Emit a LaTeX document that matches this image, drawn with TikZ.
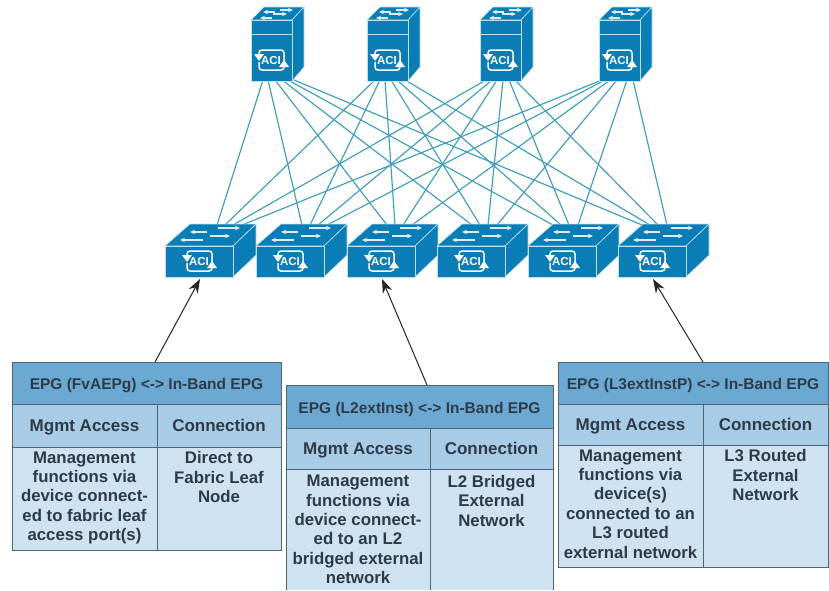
\documentclass[tikz,border=0pt]{standalone}
\usepackage{fontspec}
\setmainfont{Liberation Sans}
\usetikzlibrary{arrows.meta}
\definecolor{sw}{HTML}{0B7DB6}
\definecolor{swline}{HTML}{BFE0EF}
\definecolor{link}{HTML}{3F9DBE}
\definecolor{hd}{HTML}{6BA9D3}
\definecolor{sb}{HTML}{A8CCE6}
\definecolor{bd}{HTML}{CFE2F2}
\definecolor{ln}{HTML}{4F6675}
\definecolor{tx}{HTML}{2E3B47}
\tikzset{
  face/.style={fill=sw,draw=swline,line width=.6pt,line join=round},
  flow/.style={white!85!sw,line width=1.2pt,-{Stealth[length=5pt,width=4.5pt]}},
  wire/.style={link,line width=1.15pt},
  cell/.style={draw=ln,line width=.9pt,inner sep=0,outer sep=0},
  ttl/.style={font=\fontsize{15.5}{17}\selectfont\bfseries,text=tx,text height=13pt,text depth=0pt},
  sub/.style={font=\fontsize{17}{19}\selectfont\bfseries,text=tx,text height=12.4pt,text depth=0pt},
  txt/.style={font=\fontsize{16.8}{19.4}\selectfont\bfseries,text=tx,align=center,anchor=north},
  feed/.style={-{Stealth[length=14pt,width=10pt]},line width=1pt,black!85},
  acilogo/.pic={
    \draw[white,line width=1.5pt,rounded corners=3pt] (13,1) -- (13,-10) -- (-12,-10) -- (-12,-4);
    \draw[white,line width=1.5pt,rounded corners=3pt] (-12,2) -- (-12,10) -- (13,10) -- (13,6);
    \fill[white] (-17,-6) -- (-7,-6) -- (-12,1) -- cycle;
    \fill[white] (8,7) -- (18,7) -- (13,0) -- cycle;
    \node[font=\fontsize{11.5}{12}\selectfont\bfseries,text=white,inner sep=0] at (0,.5) {ACI};
  }
}
\begin{document}
\begin{tikzpicture}[x=1pt,y=-1pt]
\useasboundingbox (0,0) rectangle (829,590);
\fill[white] (0,0) rectangle (829,590);

% link end points on spines
\foreach \k/\a/\b/\c/\d in {1/12/8/6/3,2/17/13/12/6,3/24/18/17/11,4/31/24/23/18,5/37/30/29/28,6/43/38/35/34}{
  \coordinate (s1p\k) at (251+\a,80);
  \coordinate (s2p\k) at (367+\b,80);
  \coordinate (s3p\k) at (480+\c,80);
  \coordinate (s4p\k) at (599+\d,80);
}
% link end points on leaves
\foreach \n/\x in {1/217,2/302,3/387,4/472,5/553,6/642}{
  \foreach \k/\d in {1/0,2/8,3/16,4/25}{
    \coordinate (l\n p\k) at (\x+\d,225);
  }
}
% links
\foreach \s in {1,2,3,4}{
  \foreach \l in {1,...,6}{
    \draw[wire] (s\s p\l) -- (l\l p\s);
  }
}

% spines
\foreach \n/\x in {1/251,2/367,3/480,4/599}{
  \begin{scope}[shift={(\x,0)}]
    \path[face] (0,20) -- (13,7) -- (53,7) -- (41,20) -- cycle;
    \path[face] (41,20) -- (53,7) -- (53,67) -- (41,81) -- cycle;
    \path[face] (0,20) -- (41,20) -- (41,81) -- (0,81) -- cycle;
    \draw[swline,line width=.5pt] (0,34) -- (41,34);
    \draw[flow] (24,12) -- (12,12);
    \draw[flow] (29,10) -- (42,10);
    \draw[flow] (22,14) -- (36,14);
    \draw[flow] (21,18) -- (9,18);
    \pic at (20,60) {acilogo};
    \node[inner sep=0,minimum size=0] (spine\n) at (20,50) {};
  \end{scope}
}
% leaves
\foreach \n/\x in {1/165,2/256,3/347,4/437,5/528,6/618}{
  \begin{scope}[shift={(\x,0)}]
    \path[face] (0,246) -- (25,224) -- (91,224) -- (68,246) -- cycle;
    \path[face] (68,246) -- (91,224) -- (91,255) -- (68,277) -- cycle;
    \path[face] (0,246) -- (68,246) -- (68,277) -- (0,277) -- cycle;
    \draw[flow] (42,232) -- (25,232);
    \draw[flow] (53,228) -- (75,228);
    \draw[flow] (45,236) -- (65,236);
    \draw[flow] (38,240) -- (15,240);
    \pic at (34,261) {acilogo};
    \node[inner sep=0,minimum size=0] (leaf\n) at (35,279) {};
  \end{scope}
}

% table 1
\node[cell,fill=hd,minimum width=269pt,minimum height=42pt,anchor=north west,ttl] (t1h) at (12,362) {EPG (FvAEPg) <-> In-Band EPG};
\node[cell,fill=sb,minimum width=145pt,minimum height=43pt,anchor=north west,sub] (t1a) at (12,404) {Mgmt Access};
\node[cell,fill=sb,minimum width=124pt,minimum height=43pt,anchor=north west,sub] (t1b) at (157,404) {Connection};
\node[cell,fill=bd,minimum width=145pt,minimum height=103pt,anchor=north west] (t1c) at (12,447) {};
\node[cell,fill=bd,minimum width=124pt,minimum height=103pt,anchor=north west] (t1d) at (157,447) {};
\node[txt] (t1e) at (84.5,448) {Management\\functions via\\device connect-\\ed to fabric leaf\\access port(s)};
\node[txt] (t1f) at (219,448) {Direct to\\Fabric Leaf\\Node};

% table 2
\node[cell,fill=hd,minimum width=267pt,minimum height=43pt,anchor=north west,ttl] (t2h) at (286,385) {EPG (L2extInst) <-> In-Band EPG};
\node[cell,fill=sb,minimum width=144pt,minimum height=41pt,anchor=north west,sub] (t2a) at (286,428) {Mgmt Access};
\node[cell,fill=sb,minimum width=123pt,minimum height=41pt,anchor=north west,sub] (t2b) at (430,428) {Connection};
\fill[bd] (286,469) rectangle (430,590);
\fill[bd] (430,469) rectangle (553,590);
\draw[ln,line width=.9pt] (286,590) -- (286,469) -- (553,469) -- (553,590) (430,469) -- (430,590);
\node[txt] (t2e) at (358,471.5) {Management\\functions via\\device connect-\\ed to an L2\\bridged external\\network};
\node[txt] (t2f) at (491.5,471.5) {L2 Bridged\\External\\Network};

% table 3
\node[cell,fill=hd,minimum width=270pt,minimum height=42pt,anchor=north west,ttl] (t3h) at (558,362) {EPG (L3extInstP) <-> In-Band EPG};
\node[cell,fill=sb,minimum width=145pt,minimum height=41pt,anchor=north west,sub] (t3a) at (558,404) {Mgmt Access};
\node[cell,fill=sb,minimum width=125pt,minimum height=41pt,anchor=north west,sub] (t3b) at (703,404) {Connection};
\node[cell,fill=bd,minimum width=145pt,minimum height=122pt,anchor=north west] (t3c) at (558,445) {};
\node[cell,fill=bd,minimum width=125pt,minimum height=122pt,anchor=north west] (t3d) at (703,445) {};
\node[txt] (t3e) at (630.5,446) {Management\\functions via\\device(s)\\connected to an\\L3 routed\\external network};
\node[txt] (t3f) at (765.5,446) {L3 Routed\\External\\Network};

% arrows
\coordinate (a1) at (155,362);
\coordinate (a2) at (427,385);
\coordinate (a3) at (703,362);
\draw[feed] (a1) -- (leaf1.center);
\draw[feed] (a2) -- (leaf3.center);
\draw[feed] (a3) -- (leaf6.center);
\end{tikzpicture}
\end{document}
